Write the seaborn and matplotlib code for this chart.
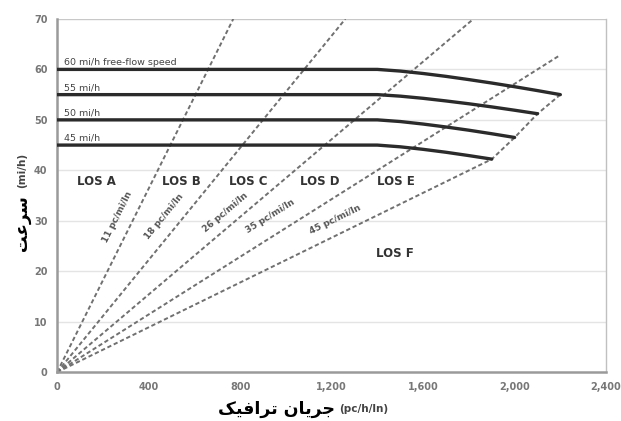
import numpy as np
import pandas as pd
import matplotlib
matplotlib.use("Agg")
import matplotlib.pyplot as plt
import seaborn as sns

# ---------------- data ----------------
curve_names = ["60", "55", "50", "45"]
flow_60 = [0, 1400, 1500, 1600, 1700, 1800, 1900, 2000, 2100, 2200]
speed_60 = [60, 60, 59.67, 59.19, 58.62, 57.98, 57.30, 56.57, 55.80, 55.0]
flow_55 = [0, 1400, 1500, 1600, 1700, 1800, 1900, 2000, 2100]
speed_55 = [55, 55, 54.70, 54.27, 53.75, 53.19, 52.57, 51.91, 51.22]
flow_50 = [0, 1400, 1500, 1600, 1700, 1800, 1900, 2000]
speed_50 = [50, 50, 49.67, 49.17, 48.59, 47.95, 47.25, 46.51]
flow_45 = [0, 1400, 1500, 1600, 1700, 1800, 1900]
speed_45 = [45, 45, 44.66, 44.16, 43.58, 42.92, 42.22]

curve_labels = ["60 mi/h free-flow speed", "55 mi/h", "50 mi/h", "45 mi/h"]

densities = [11, 18, 26, 35, 45]
dens_flow = [[0, 770], [0, 1260], [0, 1820], [0, 2200], [0, 1900, 2000, 2100, 2200]]
dens_speed = [[0, 70], [0, 70], [0, 70], [0, 62.86], [0, 42.2, 46.5, 51.2, 55.0]]
dens_label_pos = [(265, 30.8), (470, 30.8), (735, 31.6), (930, 30.8), (1215, 30.3)]

los_labels = ["LOS A", "LOS B", "LOS C", "LOS D", "LOS E", "LOS F"]
los_flow = [173, 545, 835, 1150, 1483, 1475]
los_speed = [37.7, 37.7, 37.7, 37.7, 37.7, 23.6]

x_ticks = [0, 400, 800, 1200, 1600, 2000, 2400]
x_ticklabels = ["0", "400", "800", "1,200", "1,600", "2,000", "2,400"]
y_ticks = [0, 10, 20, 30, 40, 50, 60, 70]

# Persian text in visual order with presentation forms
xlabel_fa = "\uFB8F\uFBFF\uFED3\uFE8D\uFEAE\uFE97 \uFEE5\uFE8E\uFBFE\uFEAE\uFE9F"   # جریان ترافیک
xlabel_en = "(pc/h/ln)"
ylabel_fa = "\uFE96\uFECB\uFEAE\uFEB3"   # سرعت
ylabel_en = "(mi/h)"

# ---------------- build frames ----------------
curves = pd.DataFrame({
    "flow": flow_60 + flow_55 + flow_50 + flow_45,
    "speed": speed_60 + speed_55 + speed_50 + speed_45,
    "ffs": (["60"] * len(flow_60) + ["55"] * len(flow_55)
            + ["50"] * len(flow_50) + ["45"] * len(flow_45)),
})
dens_rows = []
for k, fl, sp in zip(densities, dens_flow, dens_speed):
    for f, s in zip(fl, sp):
        dens_rows.append({"flow": f, "speed": s, "k": str(k)})
dens = pd.DataFrame(dens_rows)

# ---------------- plot ----------------
sns.set_theme(style="white")
plt.rcParams["font.family"] = ["DejaVu Sans"]

fig = plt.figure(figsize=(6.21, 4.21), dpi=100)
ax = fig.add_axes([0.092, 0.116, 0.884, 0.839])

for y in y_ticks[1:]:
    ax.axhline(y, color="#e4e4e4" if y < 70 else "#c8c8c8", lw=1.0, zorder=0)

sns.lineplot(data=dens, x="flow", y="speed", units="k", estimator=None, sort=False,
             color="#707070", lw=1.4, dashes=False, ax=ax, zorder=2,
             linestyle=(0, (2.2, 1.4)))

sns.lineplot(data=curves, x="flow", y="speed", units="ffs", estimator=None, sort=False,
             color="#2b2b2b", lw=2.4, ax=ax, zorder=3)

ax.set_xlim(0, 2400)
ax.set_ylim(0, 70)
ax.set_xticks(x_ticks)
ax.set_xticklabels(x_ticklabels)
ax.set_yticks(y_ticks)
ax.tick_params(axis="both", labelsize=7, labelcolor="#777777", length=0, pad=7)
for t in ax.get_xticklabels() + ax.get_yticklabels():
    t.set_fontweight("bold")
ax.set_xlabel("")
ax.set_ylabel("")

for side in ["left", "bottom"]:
    ax.spines[side].set_color("#9a9a9a")
    ax.spines[side].set_linewidth(1.8)
ax.spines["right"].set_color("#c0c0c0")
ax.spines["right"].set_linewidth(1.0)
ax.spines["top"].set_visible(False)

# curve labels
for name, lab, sp in zip(curve_names, curve_labels, [speed_60, speed_55, speed_50, speed_45]):
    ax.text(28, sp[0] + 0.45, lab, fontsize=6.8, color="#444444", ha="left", va="bottom", zorder=4)

# density labels
for k, (fx, sy) in zip(densities, dens_label_pos):
    ax.text(fx, sy, f"{k} pc/mi/ln", fontsize=6.5, color="#555555", fontweight="bold",
            ha="center", va="center", rotation=np.degrees(np.arctan(1.0 / k)),
            transform_rotates_text=True, rotation_mode="anchor", zorder=4)

# LOS labels
for lab, fx, sy in zip(los_labels, los_flow, los_speed):
    ax.text(fx, sy, lab, fontsize=8.5, color="#333333", fontweight="bold",
            ha="center", va="center", zorder=4)

# axis labels
fig.text(0.445, 0.008, xlabel_fa, fontsize=12.5, fontweight="bold", color="black",
         ha="center", va="bottom", family=["DejaVu Sans"])
fig.text(0.585, 0.016, xlabel_en, fontsize=7.5, fontweight="bold", color="#444444",
         ha="center", va="bottom")
fig.text(0.036, 0.47, ylabel_fa, fontsize=12, fontweight="bold", color="black",
         ha="center", va="center", rotation=90)
fig.text(0.036, 0.595, ylabel_en, fontsize=7.5, fontweight="bold", color="#444444",
         ha="center", va="center", rotation=90)

fig.savefig("out.png", dpi=100)
